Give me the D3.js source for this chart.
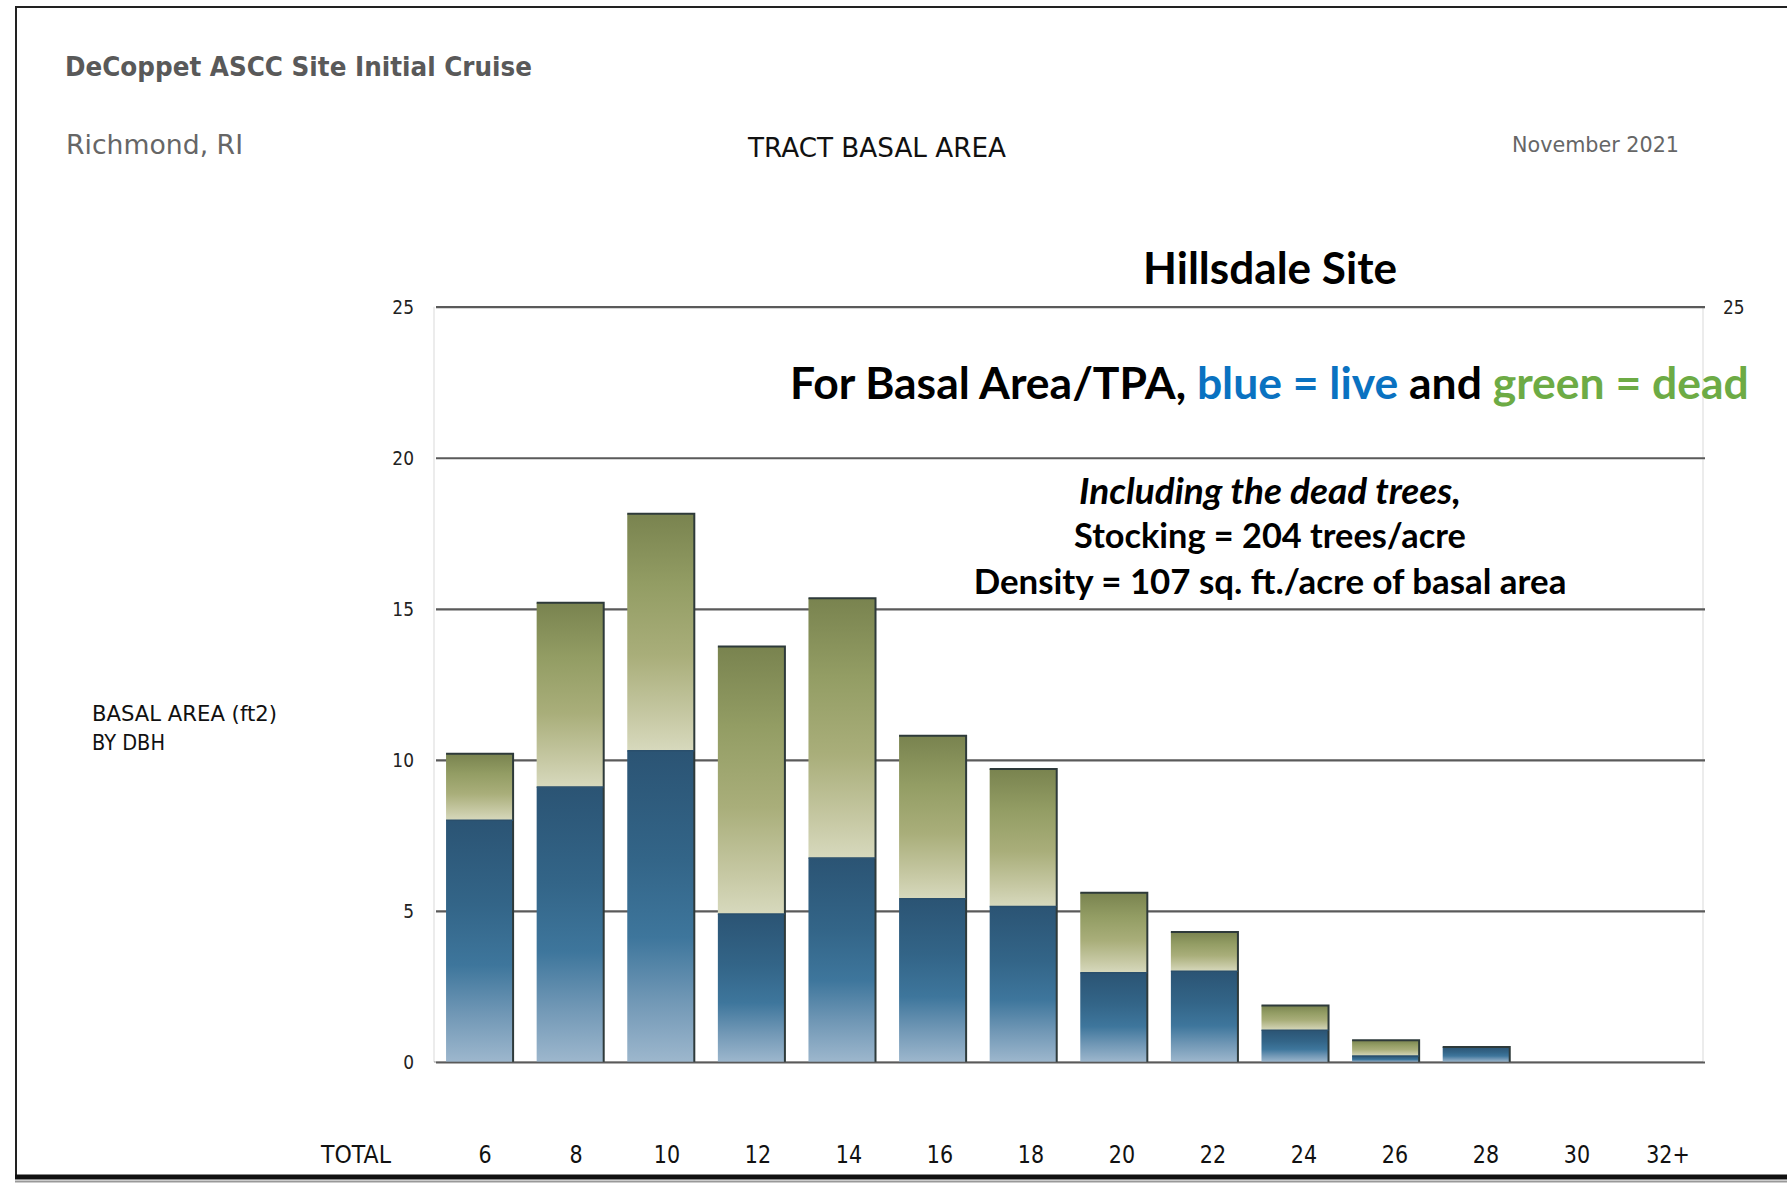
<!DOCTYPE html>
<html>
<head>
<meta charset="utf-8">
<script src="https://cdn.jsdelivr.net/npm/d3@7"></script>
<style>
  html, body { margin: 0; padding: 0; background: #fff; }
  svg { display: block; }
</style>
</head>
<body>
<div class="chart"></div>
<script>
// data (basal area ft2 per acre, by DBH class)
const dbhClasses = ['6', '8', '10', '12', '14', '16', '18', '20', '22', '24', '26', '28', '30', '32+'];
const liveBA = [8.0, 9.1, 10.3, 4.9, 6.75, 5.4, 5.15, 2.95, 3.0, 1.05, 0.2, 0.5, 0, 0];
const deadBA = [2.2, 6.1, 7.85, 8.85, 8.6, 5.4, 4.55, 2.65, 1.3, 0.82, 0.52, 0, 0, 0];
const yTicks = [0, 5, 10, 15, 20, 25];

const W = 1787, H = 1184;
const plot = {left: 434, right: 1703, top: 306.7, bottom: 1062};
const tahoma = '"DejaVu Sans", sans-serif';
const calibri = 'Lato, "Open Sans", sans-serif';

const svg = d3.select('.chart')
  .append('svg')
  .attr('width', W)
  .attr('height', H);

// gradients
const defs = svg.append('defs');
const blueGrad = defs.append('linearGradient').attr('id', 'blueGrad')
  .attr('x1', 0).attr('y1', 0).attr('x2', 0).attr('y2', 1);
[[0, '#2b5474'], [0.35, '#336588'], [0.6, '#3e769c'], [0.8, '#7097b5'], [1, '#9db7cd']]
  .forEach(s => blueGrad.append('stop').attr('offset', s[0]).attr('stop-color', s[1]));
const greenGrad = defs.append('linearGradient').attr('id', 'greenGrad')
  .attr('x1', 0).attr('y1', 0).attr('x2', 0).attr('y2', 1);
[[0, '#79834f'], [0.3, '#939d64'], [0.6, '#a9ae7a'], [0.85, '#c6c8a3'], [1, '#d7d9bd']]
  .forEach(s => greenGrad.append('stop').attr('offset', s[0]).attr('stop-color', s[1]));

// frame
svg.append('line').attr('x1', 15).attr('x2', W).attr('y1', 7).attr('y2', 7)
  .attr('stroke', '#222').attr('stroke-width', 2);
svg.append('line').attr('x1', 16).attr('x2', 16).attr('y1', 6).attr('y2', 1178)
  .attr('stroke', '#222').attr('stroke-width', 2);
svg.append('line').attr('x1', 15).attr('x2', W).attr('y1', 1177).attr('y2', 1177)
  .attr('stroke', '#111').attr('stroke-width', 5);
svg.append('line').attr('x1', 15).attr('x2', W).attr('y1', 1181.5).attr('y2', 1181.5)
  .attr('stroke', '#999').attr('stroke-width', 2);

// fit a text to a measured width by changing its font size
function fit(sel, w) {
  const fs = parseFloat(sel.attr('font-size'));
  const cur = sel.node().getComputedTextLength();
  if (cur > 0) sel.attr('font-size', fs * w / cur);
  return sel;
}
// squeeze text horizontally (tahoma-like look) to a width or a factor
function squeeze(sel, w) {
  sel.each(function() {
    const len = w > 1 ? w : this.getComputedTextLength() * w;
    d3.select(this).attr('textLength', len).attr('lengthAdjust', 'spacingAndGlyphs');
  });
  return sel;
}

// header
squeeze(svg.append('text').attr('x', 65).attr('y', 76).text('DeCoppet ASCC Site Initial Cruise')
  .attr('font-family', tahoma).attr('font-weight', 'bold').attr('font-size', 27).attr('fill', '#595959'), 467);
squeeze(svg.append('text').attr('x', 66).attr('y', 154).text('Richmond, RI')
  .attr('font-family', tahoma).attr('font-size', 26).attr('fill', '#666'), 177);
squeeze(svg.append('text').attr('x', 748).attr('y', 157).text('TRACT BASAL AREA')
  .attr('font-family', tahoma).attr('font-size', 26).attr('fill', '#111'), 258);
squeeze(svg.append('text').attr('x', 1512).attr('y', 152).text('November 2021')
  .attr('font-family', tahoma).attr('font-size', 22).attr('fill', '#666'), 167);

// scales
const x = d3.scaleBand()
  .domain(dbhClasses)
  .range([plot.left, plot.right])
  .paddingInner(0.26)
  .paddingOuter(0.133);
const xLabel = d3.scalePoint()
  .domain(dbhClasses)
  .range([485, 1668]);
const y = d3.scaleLinear()
  .domain([0, 25])
  .range([plot.bottom, plot.top]);

// faint frame of the plot area
[plot.left, plot.right].forEach(px => {
  svg.append('line').attr('x1', px).attr('x2', px).attr('y1', plot.top).attr('y2', plot.bottom)
    .attr('stroke', '#e6e6e6').attr('stroke-width', 1.5);
});

// gridlines + left tick labels
const yAxis = svg.append('g')
  .attr('transform', `translate(${plot.left},0)`)
  .call(d3.axisLeft(y).tickValues(yTicks).tickSize(-(plot.right - plot.left + 2)).tickPadding(20));
yAxis.select('.domain').remove();
yAxis.selectAll('.tick line').attr('stroke', '#5a5a5a').attr('stroke-width', 2.2).attr('x1', 2);
squeeze(yAxis.selectAll('.tick text').attr('font-family', tahoma).attr('font-size', 20).attr('fill', '#222'), 0.85);

const yAxisR = svg.append('g')
  .attr('transform', `translate(${plot.right},0)`)
  .call(d3.axisRight(y).tickValues([25]).tickSize(0).tickPadding(20));
yAxisR.select('.domain').remove();
squeeze(yAxisR.selectAll('.tick text').attr('font-family', tahoma).attr('font-size', 20).attr('fill', '#222'), 0.85);

// stacked bars
const rows = dbhClasses.map((c, i) => ({c, live: liveBA[i], dead: deadBA[i]}));
const bars = svg.append('g').selectAll('g').data(rows).join('g');

bars.filter(d => d.live > 0).append('rect')
  .attr('x', d => x(d.c))
  .attr('y', d => y(d.live))
  .attr('width', x.bandwidth())
  .attr('height', d => y(0) - y(d.live))
  .attr('fill', 'url(#blueGrad)');
bars.filter(d => d.dead > 0).append('rect')
  .attr('x', d => x(d.c))
  .attr('y', d => y(d.live + d.dead))
  .attr('width', x.bandwidth())
  .attr('height', d => y(d.live) - y(d.live + d.dead))
  .attr('fill', 'url(#greenGrad)');
// dark top and right edges
bars.filter(d => d.live + d.dead > 0).append('path')
  .attr('d', d => {
    const x0 = x(d.c), x1 = x(d.c) + x.bandwidth(), t = y(d.live + d.dead);
    return `M${x0},${t}H${x1}V${y(0)}`;
  })
  .attr('fill', 'none').attr('stroke', '#2e3a3a').attr('stroke-width', 2);
bars.filter(d => d.live > 0 && d.dead > 0).append('line')
  .attr('x1', d => x(d.c)).attr('x2', d => x(d.c) + x.bandwidth())
  .attr('y1', d => y(d.live)).attr('y2', d => y(d.live))
  .attr('stroke', '#2a4f6c').attr('stroke-width', 1.5);

// baseline drawn over bars' bottoms
svg.append('line').attr('x1', plot.left).attr('x2', plot.right).attr('y1', y(0)).attr('y2', y(0))
  .attr('stroke', '#5a5a5a').attr('stroke-width', 1).attr('opacity', 0.6);

// x labels row
squeeze(svg.append('text').attr('x', 356).attr('y', 1163).attr('text-anchor', 'middle')
  .attr('font-family', tahoma).attr('font-size', 24).attr('fill', '#111').text('TOTAL'), 70);
squeeze(svg.append('g').selectAll('text').data(dbhClasses).join('text')
  .attr('x', d => xLabel(d))
  .attr('y', 1163)
  .attr('text-anchor', 'middle')
  .attr('font-family', tahoma).attr('font-size', 24).attr('fill', '#111')
  .text(d => d), 0.86);

// y title
squeeze(svg.append('text').attr('x', 92).attr('y', 721).text('BASAL AREA (ft2)')
  .attr('font-family', tahoma).attr('font-size', 22).attr('fill', '#111'), 185);
squeeze(svg.append('text').attr('x', 92).attr('y', 750).text('BY DBH')
  .attr('font-family', tahoma).attr('font-size', 22).attr('fill', '#111'), 0.88);

// annotations
fit(svg.append('text').attr('x', 1270).attr('y', 284).attr('text-anchor', 'middle')
  .attr('font-family', calibri).attr('font-weight', 'bold').attr('font-size', 42).attr('fill', '#000')
  .text('Hillsdale Site'), 254);

const legendLine = svg.append('text').attr('x', 790).attr('y', 399)
  .attr('font-family', calibri).attr('font-weight', 'bold').attr('font-size', 40).attr('fill', '#000');
legendLine.append('tspan').text('For Basal Area/TPA, ');
legendLine.append('tspan').attr('fill', '#0a72c1').text('blue = live');
legendLine.append('tspan').text(' and ');
legendLine.append('tspan').attr('fill', '#6dab45').text('green = dead');
fit(legendLine, 959);

fit(svg.append('text').attr('x', 1270).attr('y', 504).attr('text-anchor', 'middle')
  .attr('font-family', calibri).attr('font-weight', 'bold').attr('font-style', 'italic')
  .attr('font-size', 34).attr('fill', '#000').text('Including the dead trees,'), 382);
fit(svg.append('text').attr('x', 1270).attr('y', 548).attr('text-anchor', 'middle')
  .attr('font-family', calibri).attr('font-weight', 'bold')
  .attr('font-size', 34).attr('fill', '#000').text('Stocking = 204 trees/acre'), 392);
fit(svg.append('text').attr('x', 1270).attr('y', 594).attr('text-anchor', 'middle')
  .attr('font-family', calibri).attr('font-weight', 'bold')
  .attr('font-size', 34).attr('fill', '#000').text('Density = 107 sq. ft./acre of basal area'), 593);
</script>
</body>
</html>
